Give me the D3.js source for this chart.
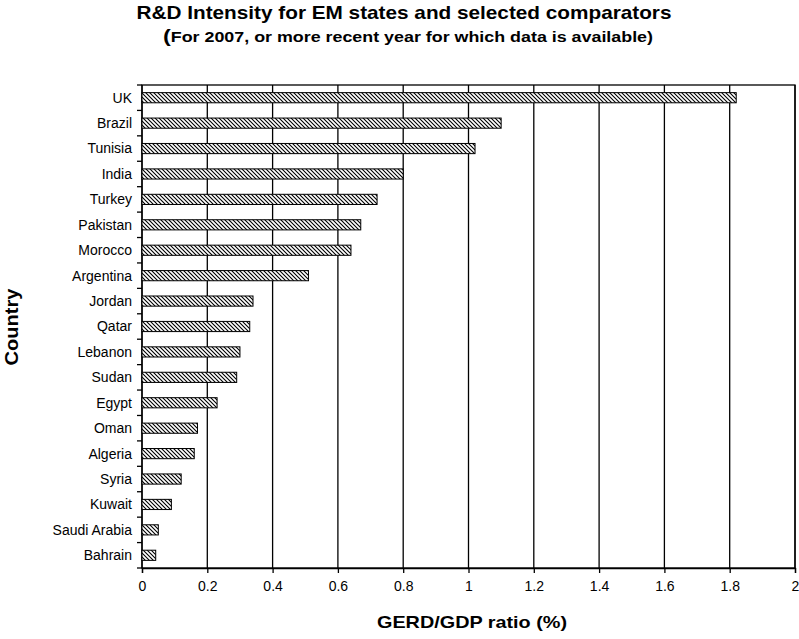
<!DOCTYPE html>
<html>
<head>
<meta charset="utf-8">
<script src="https://cdn.jsdelivr.net/npm/d3@7"></script>
<style>
  body { margin: 0; background: #fff; }
  svg { font-family: "Liberation Sans", Arial, sans-serif; }
</style>
</head>
<body>
<svg id="chart" width="799" height="639"></svg>
<script>
const countries = ["UK", "Brazil", "Tunisia", "India", "Turkey", "Pakistan", "Morocco", "Argentina",
  "Jordan", "Qatar", "Lebanon", "Sudan", "Egypt", "Oman", "Algeria", "Syria", "Kuwait", "Saudi Arabia", "Bahrain"];
const ratios = [1.82, 1.10, 1.02, 0.80, 0.72, 0.67, 0.64, 0.51,
  0.34, 0.33, 0.30, 0.29, 0.23, 0.17, 0.16, 0.12, 0.09, 0.05, 0.042];
const xTicks = [0, 0.2, 0.4, 0.6, 0.8, 1, 1.2, 1.4, 1.6, 1.8, 2];

const data = countries.map((c, i) => ({ country: c, value: ratios[i] }));

const svg = d3.select("#chart"),
  margin = { top: 85, right: 4, bottom: 71, left: 142 },
  width = 799 - margin.left - margin.right,
  height = 639 - margin.top - margin.bottom,
  g = svg.append("g").attr("transform", "translate(" + margin.left + "," + margin.top + ")");

// hatch pattern
const pat = svg.append("defs").append("pattern")
  .attr("id", "hatch")
  .attr("patternUnits", "userSpaceOnUse")
  .attr("width", 4).attr("height", 4);
pat.append("rect").attr("width", 4).attr("height", 4).attr("fill", "#fff");
pat.append("path")
  .attr("d", "M-1,-1 L5,5 M-1,3 L1,5 M3,-1 L5,1")
  .attr("stroke", "#000").attr("stroke-width", 1.1);

const x = d3.scaleLinear().domain([0, 2]).range([0, width]);
const y = d3.scaleBand().domain(countries).range([0, height]).paddingInner(0.6).paddingOuter(0.3);
const yEdge = d3.scaleBand().domain(countries).range([0, height]);

// gridlines
g.selectAll(".grid")
  .data(xTicks)
  .enter().append("line")
  .attr("x1", d => x(d)).attr("x2", d => x(d))
  .attr("y1", 0).attr("y2", height)
  .attr("stroke", "#000").attr("stroke-width", 1.3);

// plot border
g.append("rect")
  .attr("width", width).attr("height", height)
  .attr("fill", "none").attr("stroke", "#000").attr("stroke-width", 1.3);

// bars
g.selectAll(".bar")
  .data(data)
  .enter().append("rect")
  .attr("x", 0)
  .attr("y", d => y(d.country))
  .attr("width", d => x(d.value))
  .attr("height", y.bandwidth())
  .attr("fill", "url(#hatch)")
  .attr("stroke", "#000").attr("stroke-width", 1);

// x axis
const xAxis = g.append("g")
  .attr("transform", "translate(0," + height + ")")
  .call(d3.axisBottom(x).tickValues(xTicks).tickFormat(d3.format("~g")).tickSize(5).tickPadding(8));
xAxis.select(".domain").attr("stroke-width", 1.3);
xAxis.selectAll("line").attr("stroke-width", 1.3);
xAxis.selectAll("text").attr("font-size", 14).attr("font-family", "Liberation Sans, Arial, sans-serif").attr("fill", "#000");

// y axis: tick marks at category boundaries
g.selectAll(".ytick")
  .data(countries.concat(["_end"]))
  .enter().append("line")
  .attr("x1", -5).attr("x2", 0)
  .attr("y1", (d, i) => i < countries.length ? yEdge(d) : height)
  .attr("y2", (d, i) => i < countries.length ? yEdge(d) : height)
  .attr("stroke", "#000").attr("stroke-width", 1.3);

g.selectAll(".ylabel")
  .data(countries)
  .enter().append("text")
  .attr("x", -10)
  .attr("y", d => yEdge(d) + yEdge.bandwidth() / 2)
  .attr("dy", "0.35em")
  .attr("text-anchor", "end")
  .attr("font-size", 14)
  .text(d => d);

// titles
svg.append("text")
  .attr("x", 404).attr("y", 19)
  .attr("text-anchor", "middle")
  .attr("font-size", 19).attr("font-weight", "bold")
  .attr("textLength", 535).attr("lengthAdjust", "spacingAndGlyphs")
  .text("R&D Intensity for EM states and selected comparators");

const sub = svg.append("text")
  .attr("x", 408).attr("y", 42)
  .attr("text-anchor", "middle")
  .attr("font-size", 14.5).attr("font-weight", "bold")
  .attr("textLength", 490).attr("lengthAdjust", "spacingAndGlyphs");
sub.append("tspan").attr("font-size", 19).text("(");
sub.append("tspan").text("For 2007, or more recent year for which data is available)");

svg.append("text")
  .attr("x", 472).attr("y", 628)
  .attr("text-anchor", "middle")
  .attr("font-size", 17).attr("font-weight", "bold")
  .attr("textLength", 190).attr("lengthAdjust", "spacingAndGlyphs")
  .text("GERD/GDP ratio (%)");

svg.append("text")
  .attr("transform", "translate(18,327) rotate(-90)")
  .attr("text-anchor", "middle")
  .attr("font-size", 18).attr("font-weight", "bold")
  .attr("textLength", 77).attr("lengthAdjust", "spacingAndGlyphs")
  .text("Country");
</script>
</body>
</html>
